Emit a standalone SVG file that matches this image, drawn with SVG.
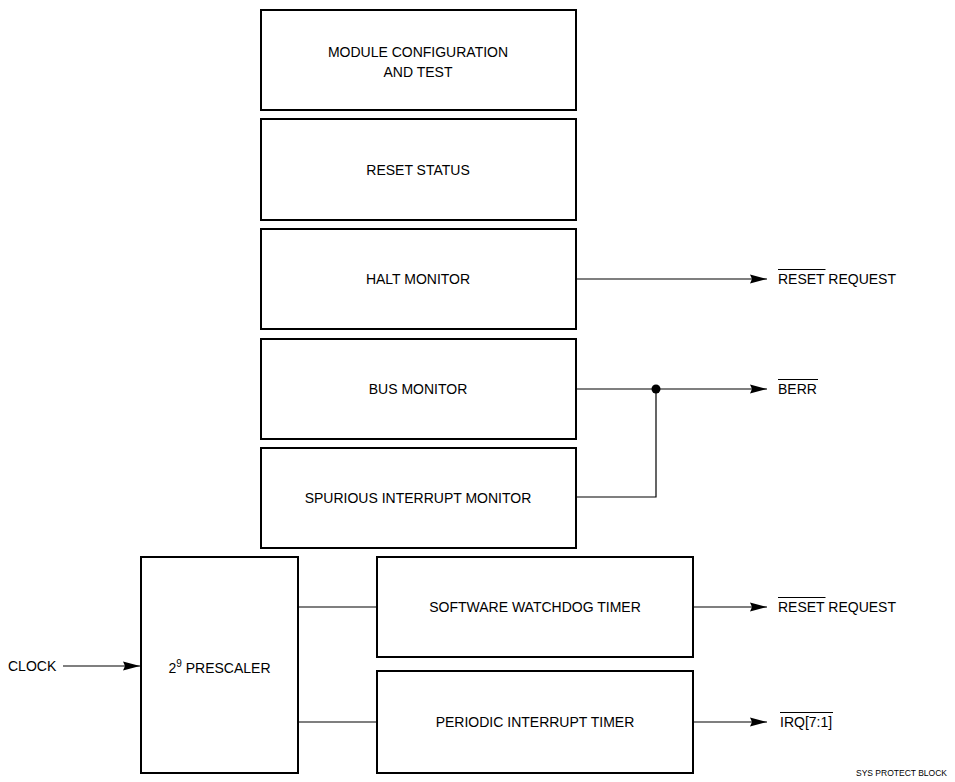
<svg xmlns="http://www.w3.org/2000/svg" width="955" height="782" viewBox="0 0 955 782">
<style>
.box{fill:#fff;stroke:#000;stroke-width:2}
.t{font-family:"Liberation Sans",Arial,sans-serif;font-size:14px;fill:#000}
.c{text-anchor:middle}
.w{fill:none;stroke:#000;stroke-width:1.2}
.ol{stroke:#000;stroke-width:1}
</style>
<defs>
<marker id="arr" markerUnits="userSpaceOnUse" markerWidth="20" markerHeight="12" refX="17" refY="5" orient="auto" overflow="visible">
<path d="M0,0.5 L17,5 L0,9.5 L2,5 Z" fill="#000"/>
</marker>
</defs>
<rect width="955" height="782" fill="#fff"/>
<g id="module-config">
<rect class="box" x="261" y="10" width="315" height="100"/>
<text class="t c" x="418" y="57">MODULE CONFIGURATION</text>
<text class="t c" x="418" y="77">AND TEST</text>
</g>
<g id="reset-status">
<rect class="box" x="261" y="119" width="315" height="101"/>
<text class="t c" x="418" y="175">RESET STATUS</text>
</g>
<g id="halt-monitor">
<rect class="box" x="261" y="229" width="315" height="100"/>
<text class="t c" x="418" y="284">HALT MONITOR</text>
</g>
<g id="bus-monitor">
<rect class="box" x="261" y="339" width="315" height="100"/>
<text class="t c" x="418" y="394">BUS MONITOR</text>
</g>
<g id="spurious-interrupt-monitor">
<rect class="box" x="261" y="448" width="315" height="100"/>
<text class="t c" x="418" y="503">SPURIOUS INTERRUPT MONITOR</text>
</g>
<g id="prescaler">
<rect class="box" x="141" y="557" width="157" height="216"/>
<text class="t c" x="219.5" y="673">2<tspan font-size="10" dy="-6">9</tspan><tspan dy="6"> PRESCALER</tspan></text>
</g>
<g id="software-watchdog">
<rect class="box" x="377" y="557" width="316" height="100"/>
<text class="t c" x="535" y="612">SOFTWARE WATCHDOG TIMER</text>
</g>
<g id="periodic-interrupt">
<rect class="box" x="377" y="671" width="316" height="102"/>
<text class="t c" x="535" y="727">PERIODIC INTERRUPT TIMER</text>
</g>
<g id="connectors">
<line class="w" x1="577" y1="279" x2="767" y2="279" marker-end="url(#arr)"/>
<line class="w" x1="577" y1="389" x2="767" y2="389" marker-end="url(#arr)"/>
<polyline class="w" points="577,497 656,497 656,389"/>
<circle cx="656" cy="389" r="4.5" fill="#000"/>
<line class="w" x1="63" y1="666" x2="140" y2="666" marker-end="url(#arr)"/>
<line class="w" x1="299" y1="607" x2="376" y2="607"/>
<line class="w" x1="299" y1="722" x2="376" y2="722"/>
<line class="w" x1="694" y1="607" x2="767" y2="607" marker-end="url(#arr)"/>
<line class="w" x1="694" y1="722" x2="767" y2="722" marker-end="url(#arr)"/>
</g>
<g id="labels">
<text class="t" x="778" y="284">RESET REQUEST</text>
<line class="ol" x1="778" y1="269.5" x2="825.5" y2="269.5"/>
<text class="t" x="778" y="394">BERR</text>
<line class="ol" x1="778" y1="379.5" x2="818" y2="379.5"/>
<text class="t" x="778" y="612">RESET REQUEST</text>
<line class="ol" x1="778" y1="597.5" x2="825.5" y2="597.5"/>
<text class="t" x="780" y="727">IRQ[7:1]</text>
<line class="ol" x1="780" y1="712.5" x2="833" y2="712.5"/>
<text class="t" x="8" y="671">CLOCK</text>
<text x="947" y="776" text-anchor="end" font-family="Liberation Sans,Arial,sans-serif" font-size="8.5">SYS PROTECT BLOCK</text>
</g>
</svg>
